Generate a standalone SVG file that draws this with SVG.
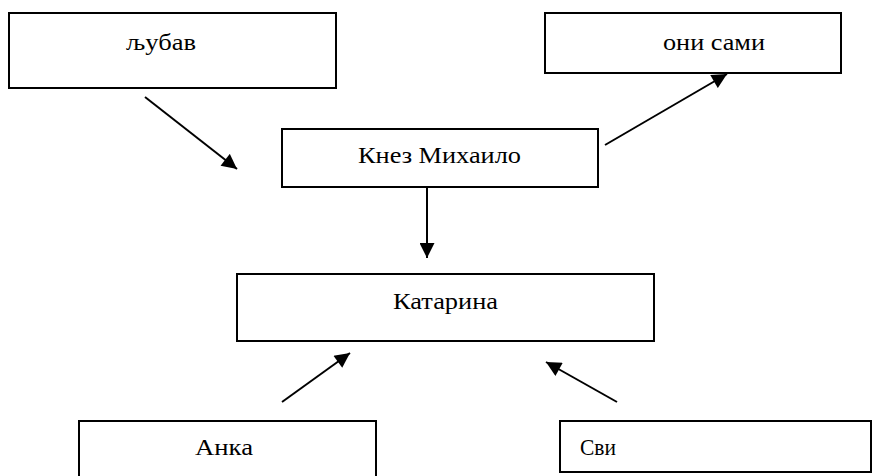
<svg xmlns="http://www.w3.org/2000/svg" width="873" height="476" viewBox="0 0 873 476">
<style>
.box{fill:#fff;stroke:#000;stroke-width:2}
.t{font-family:'Liberation Serif','DejaVu Serif',serif;font-size:23px;fill:#000}
.c{stroke:#000;stroke-width:2;fill:none;marker-end:url(#ah)}
</style>
<defs>
<marker id="ah" viewBox="0 0 10 10" refX="10" refY="5" markerWidth="8.5" markerHeight="7.5" markerUnits="strokeWidth" orient="auto">
<path d="M0,0 L10,5 L0,10 z" fill="#000"/>
</marker>
</defs>
<rect width="873" height="476" fill="#fff"/>
<g id="ljubav"><rect class="box" x="9" y="13" width="327" height="75"/><text class="t" x="126" y="50" textLength="70" lengthAdjust="spacingAndGlyphs">љубав</text></g>
<g id="oni-sami"><rect class="box" x="545" y="13" width="296" height="60"/><text class="t" x="663" y="50" textLength="102" lengthAdjust="spacingAndGlyphs">они сами</text></g>
<g id="knez"><rect class="box" x="282" y="129" width="316" height="58"/><text class="t" x="358" y="163" textLength="163" lengthAdjust="spacingAndGlyphs">Кнез Михаило</text></g>
<g id="katarina"><rect class="box" x="237" y="274" width="417" height="67"/><text class="t" x="393" y="309" textLength="105" lengthAdjust="spacingAndGlyphs">Катарина</text></g>
<g id="anka"><rect class="box" x="79" y="421" width="297" height="60"/><text class="t" x="195" y="455" textLength="58" lengthAdjust="spacingAndGlyphs">Анка</text></g>
<g id="svi"><rect class="box" x="560" y="421" width="311" height="51"/><text class="t" x="580" y="455" textLength="36" lengthAdjust="spacingAndGlyphs">Сви</text></g>
<g id="connectors">
<line class="c" x1="145" y1="97" x2="237" y2="169"/>
<line class="c" x1="605" y1="145" x2="727" y2="74"/>
<line class="c" x1="427" y1="187" x2="427" y2="258"/>
<line class="c" x1="282" y1="402" x2="350" y2="353"/>
<line class="c" x1="617" y1="402" x2="546" y2="362"/>
</g>
</svg>
